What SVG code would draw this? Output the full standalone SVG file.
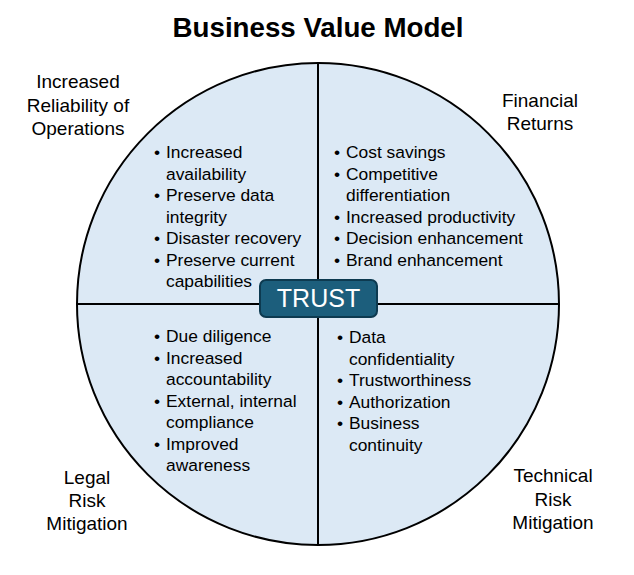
<svg xmlns="http://www.w3.org/2000/svg" width="634" height="575" viewBox="0 0 634 575">
<style>
  text { font-family: "Liberation Sans", Arial, sans-serif; fill: #000; }
  .title { font-size: 27.7px; font-weight: bold; text-anchor: middle; }
  .lbl { font-size: 19px; text-anchor: middle; }
  .b { font-size: 17.4px; }
  .div { stroke: #000; stroke-width: 2; fill: none; }
</style>
<rect width="634" height="575" fill="#fff"/>
<text class="title" x="318" y="37">Business Value Model</text>
<g id="circle">
  <circle cx="318" cy="304" r="241" fill="#dce9f5" stroke="#000" stroke-width="2"/>
</g>
<g id="dividers">
  <line class="div" x1="318" y1="63" x2="318" y2="545"/>
  <line class="div" x1="77" y1="304" x2="559" y2="304"/>
</g>
<g id="reliability">
  <text class="lbl" x="78" y="88">Increased</text>
  <text class="lbl" x="78" y="112">Reliability of</text>
  <text class="lbl" x="78" y="135">Operations</text>
  <text class="b" x="154" y="158">•</text><text class="b" x="166" y="158">Increased</text>
  <text class="b" x="166" y="179.5">availability</text>
  <text class="b" x="154" y="201">•</text><text class="b" x="166" y="201">Preserve data</text>
  <text class="b" x="166" y="222.5">integrity</text>
  <text class="b" x="154" y="244">•</text><text class="b" x="166" y="244">Disaster recovery</text>
  <text class="b" x="154" y="265.5">•</text><text class="b" x="166" y="265.5">Preserve current</text>
  <text class="b" x="166" y="287">capabilities</text>
</g>
<g id="financial">
  <text class="lbl" x="540" y="107">Financial</text>
  <text class="lbl" x="540" y="130">Returns</text>
  <text class="b" x="334" y="158">•</text><text class="b" x="346" y="158">Cost savings</text>
  <text class="b" x="334" y="179.5">•</text><text class="b" x="346" y="179.5">Competitive</text>
  <text class="b" x="346" y="201">differentiation</text>
  <text class="b" x="334" y="222.5">•</text><text class="b" x="346" y="222.5">Increased productivity</text>
  <text class="b" x="334" y="244">•</text><text class="b" x="346" y="244">Decision enhancement</text>
  <text class="b" x="334" y="265.5">•</text><text class="b" x="346" y="265.5">Brand enhancement</text>
</g>
<g id="legal">
  <text class="lbl" x="87" y="484">Legal</text>
  <text class="lbl" x="87" y="507">Risk</text>
  <text class="lbl" x="87" y="530">Mitigation</text>
  <text class="b" x="154" y="342">•</text><text class="b" x="166" y="342">Due diligence</text>
  <text class="b" x="154" y="363.5">•</text><text class="b" x="166" y="363.5">Increased</text>
  <text class="b" x="166" y="385">accountability</text>
  <text class="b" x="154" y="406.5">•</text><text class="b" x="166" y="406.5">External, internal</text>
  <text class="b" x="166" y="428">compliance</text>
  <text class="b" x="154" y="449.5">•</text><text class="b" x="166" y="449.5">Improved</text>
  <text class="b" x="166" y="471">awareness</text>
</g>
<g id="technical">
  <text class="lbl" x="553" y="482">Technical</text>
  <text class="lbl" x="553" y="506">Risk</text>
  <text class="lbl" x="553" y="529">Mitigation</text>
  <text class="b" x="337" y="343">•</text><text class="b" x="349" y="343">Data</text>
  <text class="b" x="349" y="364.5">confidentiality</text>
  <text class="b" x="337" y="386">•</text><text class="b" x="349" y="386">Trustworthiness</text>
  <text class="b" x="337" y="407.5">•</text><text class="b" x="349" y="407.5">Authorization</text>
  <text class="b" x="337" y="429">•</text><text class="b" x="349" y="429">Business</text>
  <text class="b" x="349" y="450.5">continuity</text>
</g>
<g id="trust">
  <rect x="260" y="280" width="117" height="37" rx="6" fill="#1c5e7c" stroke="#0d3a50" stroke-width="2"/>
  <text x="318.5" y="307" font-size="25" text-anchor="middle" style="fill:#fff">TRUST</text>
</g>
</svg>
